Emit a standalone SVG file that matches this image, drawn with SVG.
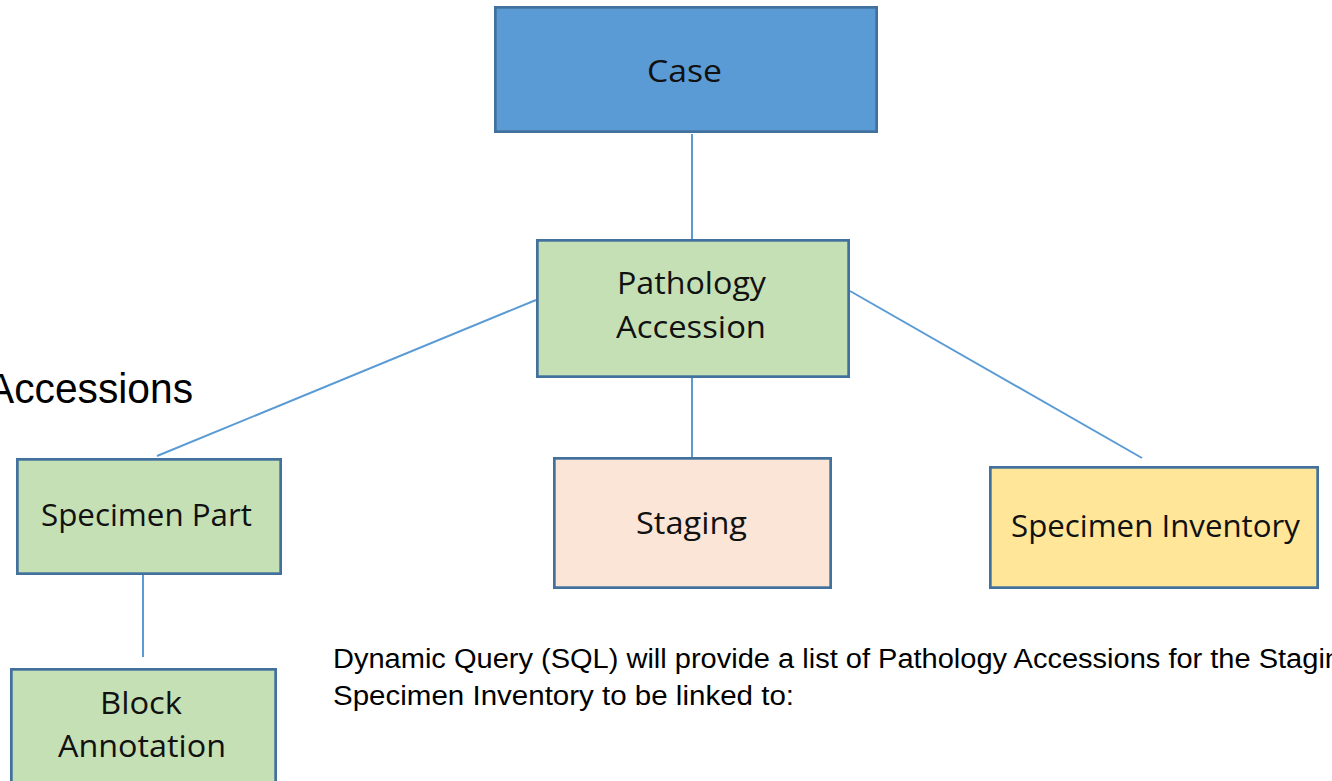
<svg xmlns="http://www.w3.org/2000/svg" width="1332" height="781" viewBox="0 0 1332 781">
  <style>
    .box { stroke: #41719c; stroke-width: 2.7; }
    .lbl { font-family: "Open Sans", "DejaVu Sans", sans-serif; font-size: 31px; fill: #111; }
    .plain { font-family: "Liberation Sans", Arial, sans-serif; fill: #000; }
    .conn { stroke: #5b9bd5; stroke-width: 2; fill: none; }
  </style>
  <rect width="1332" height="781" fill="#ffffff"/>
  <g id="connectors">
    <line class="conn" x1="692" y1="134" x2="692" y2="239"/>
    <line class="conn" x1="536" y1="300" x2="157" y2="456"/>
    <line class="conn" x1="692" y1="378" x2="692" y2="462"/>
    <line class="conn" x1="850" y1="291" x2="1142" y2="458"/>
    <line class="conn" x1="143" y1="575" x2="143" y2="657"/>
  </g>
  <g id="case">
    <rect class="box" x="495.35" y="7.35" width="381.3" height="124.3" fill="#5b9bd5"/>
    <text class="lbl" x="647" y="82" textLength="75" lengthAdjust="spacingAndGlyphs">Case</text>
  </g>
  <g id="pathology-accession">
    <rect class="box" x="537.35" y="240.35" width="311.3" height="136.3" fill="#c5e0b4"/>
    <text class="lbl" x="617" y="294" textLength="149" lengthAdjust="spacingAndGlyphs">Pathology</text>
    <text class="lbl" x="616" y="338" textLength="150" lengthAdjust="spacingAndGlyphs">Accession</text>
  </g>
  <g id="specimen-part">
    <rect class="box" x="17.35" y="459.35" width="263.3" height="114.3" fill="#c5e0b4"/>
    <text class="lbl" x="41" y="526" textLength="211" lengthAdjust="spacingAndGlyphs">Specimen Part</text>
  </g>
  <g id="staging">
    <rect class="box" x="554.35" y="458.35" width="276.3" height="129.3" fill="#fbe5d6"/>
    <text class="lbl" x="636" y="534" textLength="111" lengthAdjust="spacingAndGlyphs">Staging</text>
  </g>
  <g id="specimen-inventory">
    <rect class="box" x="990.35" y="467.35" width="327.3" height="120.3" fill="#ffe699"/>
    <text class="lbl" x="1011" y="537" textLength="289" lengthAdjust="spacingAndGlyphs">Specimen Inventory</text>
  </g>
  <g id="block-annotation">
    <rect class="box" x="11.35" y="669.35" width="264.3" height="130" fill="#c5e0b4"/>
    <text class="lbl" x="100" y="714" textLength="82" lengthAdjust="spacingAndGlyphs">Block</text>
    <text class="lbl" x="58" y="757" textLength="168" lengthAdjust="spacingAndGlyphs">Annotation</text>
  </g>
  <g id="notes">
    <text class="plain" x="-13" y="403" font-size="42" textLength="206" lengthAdjust="spacingAndGlyphs">Accessions</text>
    <text class="plain" x="333" y="668" font-size="27" textLength="1008" lengthAdjust="spacingAndGlyphs">Dynamic Query (SQL) will provide a list of Pathology Accessions for the Stagin</text>
    <text class="plain" x="333" y="705" font-size="27" textLength="461" lengthAdjust="spacingAndGlyphs">Specimen Inventory to be linked to:</text>
  </g>
</svg>
